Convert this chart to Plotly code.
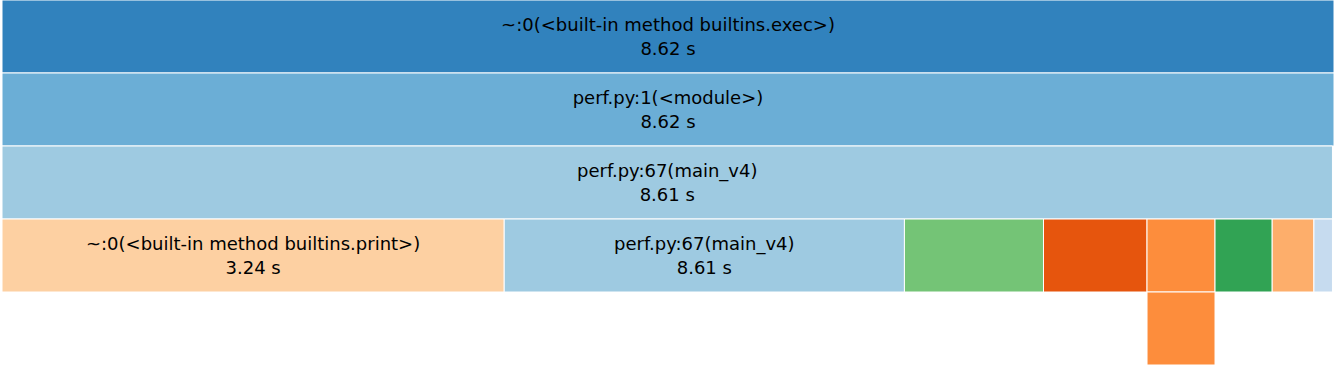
import plotly.graph_objects as go

ids = ["exec", "module", "main_v4", "print", "main_v4_rec", "f_a", "f_b", "f_c", "f_c_child", "f_d", "f_e", "f_f"]
labels = [
    "~:0(<built-in method builtins.exec>)",
    "perf.py:1(<module>)",
    "perf.py:67(main_v4)",
    "~:0(<built-in method builtins.print>)",
    "perf.py:67(main_v4)",
    "perf.py:40(compute_values_loop)",
    "~:0(<built-in method builtins.sum>)",
    "perf.py:21(helper_function_v2)",
    "~:0(<built-in method math.sqrt>)",
    "~:0(<method 'append' of 'list' objects>)",
    "~:0(<built-in method builtins.len>)",
    "~:0(<built-in method builtins.isinstance>)",
]
parents = ["", "exec", "module", "main_v4", "main_v4", "main_v4", "main_v4", "main_v4", "f_c", "main_v4", "main_v4", "main_v4"]
# size values (seconds) read from widths
values = [8.62, 8.62, 8.61, 3.25, 2.59, 0.90, 0.67, 0.44, 0.44, 0.37, 0.27, 0.12]
# displayed cumulative time
display_times = [8.62, 8.62, 8.61, 3.24, 8.61, 0.90, 0.67, 0.44, 0.44, 0.37, 0.27, 0.12]
colors = ["#3182bd", "#6baed6", "#9ecae1", "#fdd0a2", "#9ecae1", "#74c476",
          "#e6550d", "#fd8d3c", "#fd8d3c", "#31a354", "#fdae6b", "#c6dbef"]

fig = go.Figure(go.Icicle(
    ids=ids,
    labels=labels,
    parents=parents,
    values=values,
    branchvalues="total",
    customdata=[f"{t:.2f} s" for t in display_times],
    texttemplate="%{label}<br>%{customdata}",
    hovertemplate="%{label}<br>%{customdata}<extra></extra>",
    textposition="middle center",
    marker=dict(colors=colors, line=dict(color="white", width=1)),
    leaf=dict(opacity=1),
    tiling=dict(orientation="v"),
    textfont=dict(family="DejaVu Sans", size=18, color="black"),
    insidetextfont=dict(family="DejaVu Sans", size=18, color="black"),
    pathbar=dict(visible=False),
    sort=False,
))
fig.update_layout(
    width=1339, height=376,
    margin=dict(l=2, r=5, t=0, b=11),
    paper_bgcolor="white",
    uniformtext=dict(minsize=18, mode="hide"),
)
fig.write_html("out.html", config={"displayModeBar": False},
               post_script="document.body.style.margin='0';")
